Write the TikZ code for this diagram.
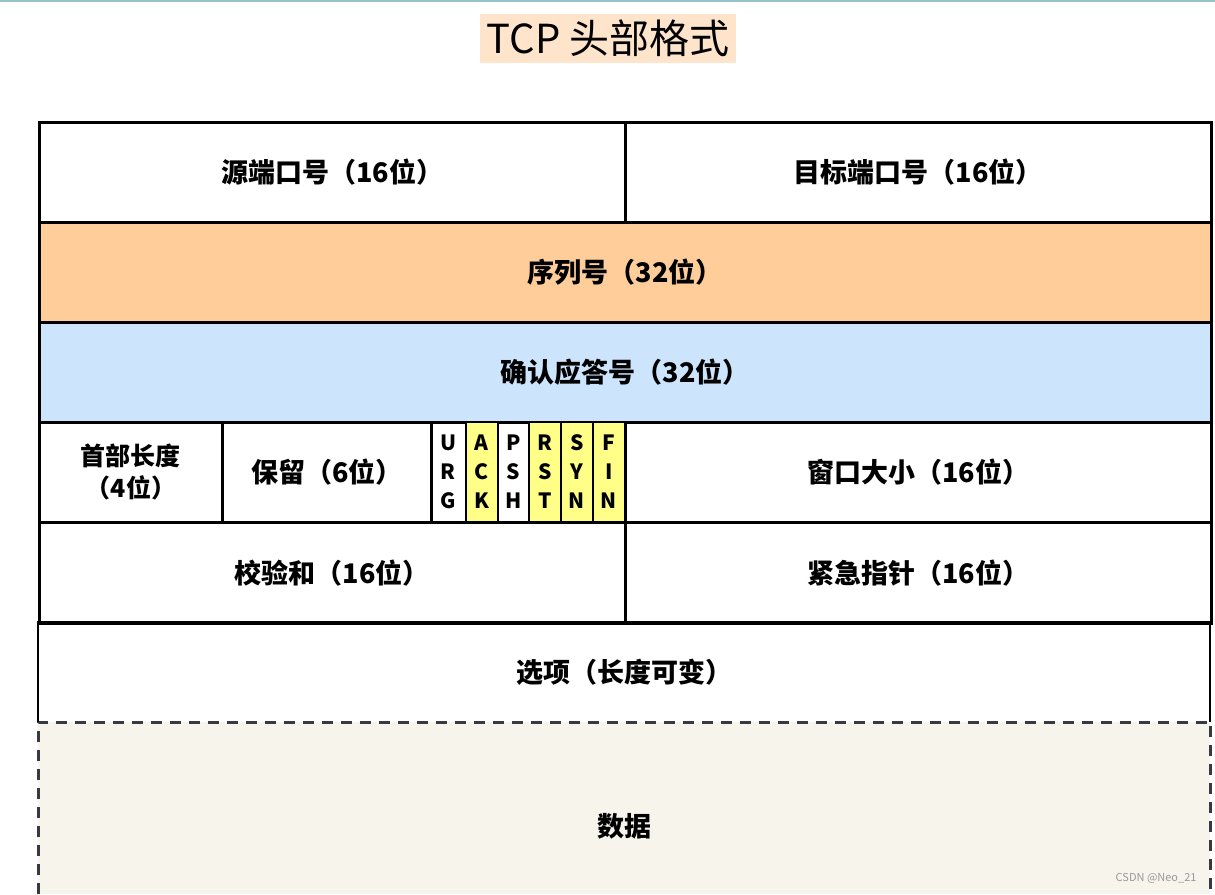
\documentclass[tikz,border=0pt]{standalone}
\usepackage{fontspec}
\setmainfont{Noto Sans CJK SC}
\definecolor{teal}{RGB}{150,195,200}
\definecolor{peach}{RGB}{255,228,204}
\definecolor{orangefill}{RGB}{254,205,154}
\definecolor{bluefill}{RGB}{204,228,252}
\definecolor{flagyellow}{RGB}{255,255,136}
\definecolor{datafill}{RGB}{247,244,236}
\definecolor{dashcol}{RGB}{55,58,64}
\begin{document}
\begin{tikzpicture}[x=1pt,y=-1pt,
  cell/.style={draw=black, line width=2.8pt, anchor=north west, inner sep=0pt,
    font=\fontsize{27}{32}\selectfont\bfseries, align=center},
  flag/.style={cell, line width=1.8pt, font=\fontsize{21}{29}\selectfont\bfseries},
  yflag/.style={flag, fill=flagyellow}]
\useasboundingbox (0,0) rectangle (1215,894);
\fill[white] (0,0) rectangle (1215,894);
\draw[teal, line width=2pt] (0,1) -- (1215,1);
% title
\node[fill=peach, minimum width=256pt, minimum height=49pt, inner sep=0pt,
  font=\fontsize{40}{44}\selectfont] (title) at (608,38) {TCP 头部格式};
% data block
\node[fill=datafill, anchor=north west, minimum width=1172pt, minimum height=172pt, inner sep=0pt] (data) at (38,722) {};
\node[font=\fontsize{27}{32}\selectfont\bfseries] (datalabel) at (624,826) {数据};
\draw[dashcol, line width=3pt, dash pattern=on 11pt off 8pt] (data.south west) -- (data.north west) -- (data.north east) -- (data.south east);
% row 1
\node[cell, minimum width=586pt, minimum height=100pt] (src) at (38,121) {源端口号（16位）};
\node[cell, minimum width=586pt, minimum height=100pt] (dst) at (624,121) {目标端口号（16位）};
% row 2
\node[cell, fill=orangefill, minimum width=1172pt, minimum height=100pt] (seq) at (38,221) {序列号（32位）};
% row 3
\node[cell, fill=bluefill, minimum width=1172pt, minimum height=100pt] (ack) at (38,321) {确认应答号（32位）};
% row 4
\node[cell, minimum width=183pt, minimum height=100pt, font=\fontsize{25}{32}\selectfont\bfseries] (hlen) at (38,421) {首部长度\\（4位）};
\node[cell, minimum width=209pt, minimum height=100pt] (rsv) at (221,421) {保留（6位）};
\node[flag, minimum width=35pt, minimum height=100pt] (urg) at (430,421) {U\\R\\G};
\node[yflag, minimum width=32pt, minimum height=100pt] (ackf) at (465,421) {A\\C\\K};
\node[flag, minimum width=31pt, minimum height=100pt] (psh) at (497,421) {P\\S\\H};
\node[yflag, minimum width=32pt, minimum height=100pt] (rst) at (528,421) {R\\S\\T};
\node[yflag, minimum width=32pt, minimum height=100pt] (syn) at (560,421) {S\\Y\\N};
\node[yflag, minimum width=32pt, minimum height=100pt] (fin) at (592,421) {F\\I\\N};
\node[cell, minimum width=586pt, minimum height=100pt] (win) at (624,421) {窗口大小（16位）};
% row 5
\node[cell, minimum width=586pt, minimum height=101pt] (chk) at (38,521) {校验和（16位）};
\node[cell, minimum width=586pt, minimum height=101pt] (urgp) at (624,521) {紧急指针（16位）};
% row 6
\draw[line width=2.8pt] (38,722) -- (38,622) -- (1210,622) -- (1210,722);
\node[anchor=north west, minimum width=1172pt, minimum height=100pt, inner sep=0pt,
  font=\fontsize{27}{32}\selectfont\bfseries] (opt) at (38,622) {选项（长度可变）};
% watermark
\node[text=gray!80, font=\fontsize{11}{13}\selectfont, anchor=east] (wm) at (1200,878) {CSDN @Neo\_21};
\end{tikzpicture}
\end{document}
